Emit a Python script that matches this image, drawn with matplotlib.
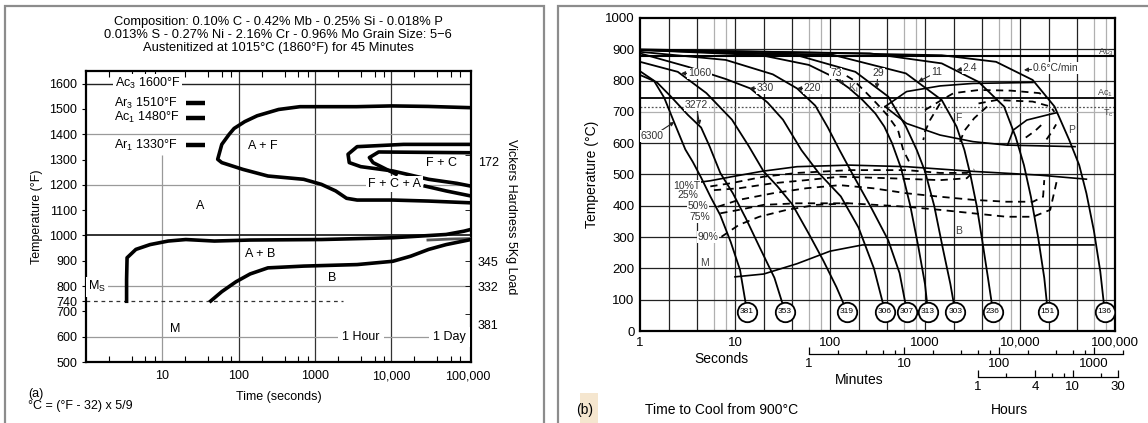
import matplotlib
matplotlib.use('Agg')
import matplotlib.pyplot as plt
from matplotlib.patches import Rectangle
from matplotlib.ticker import FixedLocator, NullFormatter, NullLocator, LogLocator

plt.rcParams['font.family'] = ['Liberation Sans', 'DejaVu Sans']
plt.rcParams['mathtext.fontset'] = 'custom'
plt.rcParams['mathtext.rm'] = 'Liberation Sans'
plt.rcParams['mathtext.it'] = 'Liberation Sans'

W, H = 1148, 423

# ---------------- (a) isothermal diagram, seconds / deg F ----------------
af_t = [1.1e5, 3e4, 1e4, 3500, 635, 333, 174, 120, 87, 75, 60, 53, 60, 114, 241, 708,
        1210, 1860, 2580, 3550, 1.04e4, 3.07e4, 1.1e5]
af_T = [1505, 1510, 1512, 1509, 1509, 1498, 1473, 1450, 1423, 1400, 1360, 1301, 1288, 1261,
        1235, 1222, 1202, 1176, 1147, 1140, 1140, 1136, 1129]
fc_out_t = [1.1e5, 1.44e4, 3550, 2700, 2800, 3960, 1.04e4, 3.07e4, 7.2e4, 1.1e5]
fc_out_T = [1360, 1360, 1351, 1321, 1288, 1272, 1255, 1222, 1206, 1195]
fc_in_t = [1.1e5, 6800, 5140, 5740, 1.15e4]
fc_in_T = [1327, 1330, 1308, 1288, 1242]
fca_t = [2.77e4, 5.2e4, 1.1e5]
fca_T = [1195, 1176, 1156]
bs_t = [3.4, 3.4, 3.45, 4.5, 6.9, 11.9, 20.3, 48, 141, 1210, 1.04e4, 5.2e4, 8.9e4, 1.1e5]
bs_T = [740, 826, 912, 945, 964, 978, 984, 978, 982, 984, 991, 1004, 1017, 1024]
bs2_t = [3e4, 6e4, 1.1e5]
bs2_T = [982, 986, 988]
bf_t = [43, 60, 92, 141, 241, 708, 3550, 1.04e4, 1.78e4, 3.07e4, 5.2e4, 1.1e5]
bf_T = [741, 778, 817, 848, 872, 879, 885, 898, 918, 945, 964, 984]
ms_t = [1, 2300]
ms_T = [740, 740]
crit_labels = [r'Ar$_3$ 1510°F', r'Ac$_1$ 1480°F', r'Ar$_1$ 1330°F']
crit_T = [1522, 1466, 1356]
crit_bar_t = [20.5, 36.5]
hv_a_labels = ['172', '345', '332', '381']
hv_a_T = [1294, 897, 797, 650]
hv_a_ticks = [1320, 1100, 900, 800, 690]
yticks_a = [500, 600, 700, 740, 800, 900, 1000, 1100, 1200, 1300, 1400, 1500, 1600]
xticks_a = [10, 100, 1000, 1e4, 1e5]
xlabels_a = ['10', '100', '1000', '10,000', '100,000']
grid_a_t = [10, 100, 1000, 1e4]
grid_a_top = [1320, 1650, 1650, 1650]

# ---------------- (b) continuous cooling diagram, seconds / deg C ----------------
rate_labels = ['6300', '3272', '1060', '330', '220', '73', '29', '11', '2.4', '0.6°C/min']
hv_b = [381, 353, 319, 306, 307, 313, 303, 236, 151, 136]
cool_t = [
    [1, 1.4, 1.8, 2.3, 3.0, 3.6, 4.4, 5.5, 7.0, 9.0, 11.3, 13.4],
    [1, 1.5, 2.1, 3.2, 4.4, 5.4, 7.0, 9.5, 13, 18, 26, 33.6],
    [1, 2.5, 5, 9.3, 14, 20, 28, 40, 60, 85, 117, 151],
    [1, 3.2, 8, 14.5, 22, 32, 50, 76, 130, 200, 290, 380],
    [1, 8, 25, 45, 70, 95, 125, 170, 265, 410, 540, 646],
    [1, 19, 60, 108, 160, 220, 300, 373, 450, 560, 700, 850, 1000, 1075],
    [1, 45, 185, 410, 630, 820, 1000, 1250, 1550, 1850, 2080],
    [1, 108, 630, 1500, 2150, 2600, 3000, 3500, 4000, 4600, 5200],
    [1, 263, 1500, 3660, 6800, 9000, 11000, 13000, 15500, 18000, 19600],
    [1, 1500, 5600, 13600, 23100, 33000, 42000, 50000, 60000, 70000, 78000],
]
cool_T = [
    [830, 800, 745, 665, 580, 540, 490, 430, 370, 285, 195, 62],
    [818, 795, 750, 690, 650, 590, 505, 440, 360, 270, 170, 62],
    [860, 828, 760, 675, 590, 510, 462, 405, 310, 225, 140, 62],
    [887, 844, 805, 775, 730, 675, 578, 505, 430, 330, 200, 62],
    [892, 866, 820, 775, 720, 650, 580, 505, 400, 290, 185, 62],
    [898, 881, 850, 812, 775, 738, 695, 653, 600, 520, 400, 270, 150, 62],
    [898, 881, 828, 749, 653, 578, 510, 400, 260, 150, 62],
    [898, 882, 823, 738, 653, 578, 500, 400, 290, 170, 62],
    [898, 887, 855, 796, 717, 620, 530, 430, 300, 170, 62],
    [900, 881, 860, 802, 717, 610, 530, 440, 320, 190, 62],
]
rate_tip = [(2.3, 668), (4.25, 658), (2.7, 823), (14.2, 775), (45, 775),
            (140, 785), (310, 775), (850, 797), (2150, 834), (11000, 834)]
rate_pos = [(1.35, 622), (3.9, 722), (3.2, 823), (17, 775), (53, 775),
            (115, 823), (320, 823), (1150, 826), (2500, 840), (13500, 840)]
rate_ha = ['center', 'center', 'left', 'left', 'left', 'center', 'center', 'left', 'left', 'left']

pct_labels = ['10%T', '25%', '50%', '75%', '90%']
pct_lab_t = [3.1, 3.2, 4.1, 4.3, 5.2]
pct_lab_T = [463, 434, 399, 363, 301]
pct_t = [
    [5.5, 9, 20, 45, 160, 640, 1440, 2750, 3300],
    [6, 11, 25, 56, 127, 425, 1440, 2750, 3250],
    [6.6, 11, 25, 56, 127, 285, 640, 1440, 3220, 7200, 13700, 17500, 18000],
    [7, 11, 20, 45, 100, 160, 640, 1440, 3220, 7200, 13700, 20800, 24500],
    [7.2, 11, 18, 35, 72, 160],
]
pct_T = [
    [462, 472, 493, 505, 514, 514, 505, 505, 516],
    [450, 456, 472, 482, 493, 488, 482, 488, 509],
    [397, 419, 440, 456, 466, 456, 440, 429, 419, 413, 413, 429, 482],
    [376, 387, 403, 408, 408, 408, 397, 387, 376, 365, 365, 387, 482],
    [301, 339, 365, 387, 403, 408],
]
bsb_t = [3.5, 5.5, 8.9, 19, 45, 160, 640, 3200, 16000, 50000]
bsb_T = [472, 480, 492, 510, 525, 530, 525, 510, 498, 485]
msb_t = [10, 20, 45, 100, 220, 1500, 60000]
msb_T = [173, 182, 215, 255, 275, 275, 275]
fs_up_t = [380, 640, 1440, 3200, 13700]
fs_up_T = [717, 765, 783, 791, 794]
fs_lo_t = [380, 640, 1440, 3200, 7200, 38000]
fs_lo_T = [717, 663, 626, 605, 594, 589]
ps_t = [7400, 8500, 11800, 19200, 24000]
ps_T = [594, 642, 674, 690, 697]
k_t = [150, 176, 243, 310, 400, 520, 590, 690]
k_T = [815, 802, 760, 727, 690, 642, 578, 537]
fdash_t = [[1000, 1440, 2000, 3700, 8000, 16000, 19000],
           [3660, 5700, 13600, 21000, 23000],
           [1440, 1130, 1000, 960],
           [4500, 3300, 2600, 2300],
           [11500, 14500, 17700],
           [19000, 21500, 24000]]
fdash_T = [[706, 735, 760, 770, 768, 760, 745],
           [727, 738, 733, 717, 700],
           [727, 674, 637, 610],
           [717, 680, 640, 600],
           [618, 640, 665],
           [612, 635, 660]]
ac3_b, ac1_b, tc_b = 878, 745, 715
grid_dark_t = [2, 4, 10, 20, 40, 100, 200, 400, 1000, 2000, 4000, 1e4, 2e4, 4e4]
grid_light_t = [6, 8, 60, 80, 600, 800, 6000, 8000, 6e4, 8e4]
grid_dark_T = [100, 200, 300, 400, 500, 600, 800, 900]
grid_light_T = [700]
xticks_b = [1, 10, 100, 1000, 1e4, 1e5]
xlabels_b = ['1', '10', '100', '1000', '10,000', '100,000']
min_major = [1, 10, 100, 1000]
min_minor = [2, 4, 6, 8, 20, 40, 60, 80, 200, 400, 600, 800, 2000]
hr_major = [1, 4, 10, 30]
hr_minor = [2, 6, 8, 20]


def fx(x):
    return x / W


def fy(y):
    return 1 - y / H


fig = plt.figure(figsize=(W / 100, H / 100), dpi=100)

# panel frames
fig.patches.append(Rectangle((fx(5), fy(430)), (544 - 5) / W, (430 - 6) / H,
                             transform=fig.transFigure, fill=False, ec='#8c8c8c', lw=1.6))
fig.patches.append(Rectangle((fx(558), fy(430)), (1160 - 558) / W, (430 - 6) / H,
                             transform=fig.transFigure, fill=False, ec='#8c8c8c', lw=1.6))
fig.patches.append(Rectangle((fx(580), fy(423)), 18 / W, 30 / H,
                             transform=fig.transFigure, fc='#f5e6cf', ec='none'))

# ================= panel (a) =================
ax = fig.add_axes([fx(86), fy(362), (471 - 86) / W, (362 - 71) / H])
ax.set_xscale('log')
ax.set_xlim(1, 1.1e5)
ax.set_ylim(500, 1650)

for t, top in zip(grid_a_t, grid_a_top):
    c = '#999999' if t == 10 else '#333333'
    ax.vlines(t, 500, top, color=c, lw=0.9, zorder=1)
ax.axhline(1600, color='#222222', lw=1.0, zorder=1)
ax.axhline(1000, color='#222222', lw=1.3, zorder=1)
for T in [1400, 1200, 800, 600]:
    ax.axhline(T, color='#9a9a9a', lw=0.9, zorder=1)

lw_a = 2.6
ax.plot(af_t, af_T, color='k', lw=lw_a, solid_capstyle='round', zorder=3)
ax.plot(fc_out_t, fc_out_T, color='k', lw=lw_a, zorder=3)
ax.plot(fc_in_t, fc_in_T, color='k', lw=lw_a, zorder=3)
ax.plot(fca_t, fca_T, color='k', lw=lw_a, zorder=3)
ax.plot(bs_t, bs_T, color='k', lw=lw_a, zorder=3)
ax.plot(bs2_t, bs2_T, color='#555555', lw=2.0, zorder=3)
ax.plot(bf_t, bf_T, color='k', lw=lw_a, zorder=3)
ax.plot(ms_t, ms_T, color='#333333', lw=0.9, ls=(0, (3, 3)), zorder=2)

wb = dict(fc='white', ec='none', pad=1.5)
ax.text(2.4, 1600, r'Ac$_3$ 1600°F', fontsize=9, va='center', ha='left', bbox=wb, zorder=4)
for lab, T in zip(crit_labels, crit_T):
    ax.text(2.3, T, lab, fontsize=9, va='center', ha='left', bbox=wb, zorder=4)
    ax.plot(crit_bar_t, [T, T], color='k', lw=3.2, solid_capstyle='butt', zorder=4)

ax.text(205, 1354, 'A + F', fontsize=9, ha='center', va='center')
ax.text(44700, 1288, 'F + C', fontsize=9, ha='center', va='center')
ax.text(11000, 1202, 'F + C + A', fontsize=9, ha='center', va='center', bbox=wb, zorder=4)
ax.text(31, 1116, 'A', fontsize=9, ha='center', va='center')
ax.text(190, 925, 'A + B', fontsize=9, ha='center', va='center')
ax.text(1670, 830, 'B', fontsize=9, ha='center', va='center')
ax.text(1.38, 797, r'M$_S$', fontsize=9, ha='center', va='center', bbox=wb, zorder=4)
ax.text(14.7, 630, 'M', fontsize=9, ha='center', va='center')
ax.text(3950, 600, '1 Hour', fontsize=9, ha='center', va='center',
        bbox=dict(fc='white', ec='none', pad=3), zorder=4)
ax.text(58000, 600, '1 Day', fontsize=9, ha='center', va='center',
        bbox=dict(fc='white', ec='none', pad=3), zorder=4)

ax.set_yticks(yticks_a)
ax.set_yticklabels([str(v) for v in yticks_a], fontsize=9)
ax.set_xticks(xticks_a)
ax.set_xticklabels(xlabels_a, fontsize=9)
ax.xaxis.set_minor_locator(LogLocator(base=10, subs=(2, 4, 6, 8)))
ax.xaxis.set_minor_formatter(NullFormatter())
ax.tick_params(axis='y', direction='out', length=3, width=0.8)
ax.tick_params(axis='x', which='both', direction='in', top=True, length=4, width=0.8)
ax.tick_params(axis='x', which='major', length=0, pad=6)
for s in ax.spines.values():
    s.set_linewidth(1.6)
ax.set_ylabel('Temperature (°F)', fontsize=9, labelpad=4)
ax.set_xlabel('Time (seconds)', fontsize=9, labelpad=6)

ax2 = ax.twinx()
ax2.set_ylim(500, 1650)
ax2.set_yticks(hv_a_T)
ax2.set_yticklabels(hv_a_labels, fontsize=9)
ax2.yaxis.set_minor_locator(FixedLocator(hv_a_ticks))
ax2.tick_params(axis='y', which='major', length=0, pad=5)
ax2.tick_params(axis='y', which='minor', direction='in', length=4)
for s in ax2.spines.values():
    s.set_visible(False)
ax2.set_ylabel('Vickers Hardness 5Kg Load', fontsize=9, rotation=-90, labelpad=13)

fig.text(fx(278), fy(22), 'Composition: 0.10% C - 0.42% Mb - 0.25% Si - 0.018% P',
         fontsize=9.3, ha='center', va='center')
fig.text(fx(278), fy(35), '0.013% S - 0.27% Ni - 2.16% Cr - 0.96% Mo Grain Size: 5\u22126',
         fontsize=9.3, ha='center', va='center')
fig.text(fx(278), fy(48), 'Austenitized at 1015°C (1860°F) for 45 Minutes',
         fontsize=9.3, ha='center', va='center')
fig.text(fx(28), fy(394), '(a)', fontsize=9, ha='left', va='center')
fig.text(fx(28), fy(406), '°C = (°F - 32) x 5/9', fontsize=9, ha='left', va='center')

# ================= panel (b) =================
bx = fig.add_axes([fx(640), fy(331), (1115 - 640) / W, (331 - 18) / H])
bx.set_xscale('log')
bx.set_xlim(1, 1e5)
bx.set_ylim(0, 1000)

for t in grid_light_t:
    bx.axvline(t, color='#b0b0b0', lw=0.9, zorder=1)
for t in grid_dark_t:
    bx.axvline(t, color='#222222', lw=0.9, zorder=1)
for T in grid_light_T:
    bx.axhline(T, color='#b0b0b0', lw=0.9, zorder=1)
for T in grid_dark_T:
    bx.axhline(T, color='#222222', lw=0.9, zorder=1)
bx.axhline(ac3_b, color='k', lw=1.5, zorder=1)
bx.axhline(ac1_b, color='k', lw=1.3, zorder=1)
bx.axhline(tc_b, color='#555555', lw=0.9, ls=(0, (1.5, 1.5)), zorder=1)

for ct, cT in zip(cool_t, cool_T):
    bx.plot(ct, cT, color='k', lw=1.3, zorder=3)
    bx.plot(ct[-1], cT[-1], 'o', ms=14, mfc='white', mec='k', mew=1.3, zorder=5)
for ct, cT, hv in zip(cool_t, cool_T, hv_b):
    bx.text(ct[-1], cT[-1], str(hv), fontsize=6, ha='center', va='center', zorder=6)

bx.plot(bsb_t, bsb_T, color='k', lw=1.2, zorder=3)
bx.plot(msb_t, msb_T, color='k', lw=1.2, zorder=3)
bx.plot(fs_up_t, fs_up_T, color='k', lw=1.2, zorder=3)
bx.plot(fs_lo_t, fs_lo_T, color='k', lw=1.2, zorder=3)
bx.plot(ps_t, ps_T, color='k', lw=1.2, zorder=3)
bx.plot(k_t, k_T, color='k', lw=1.3, ls=(0, (4, 3)), zorder=3)
for pt, pT in zip(pct_t, pct_T):
    bx.plot(pt, pT, color='k', lw=1.3, ls=(0, (4, 3)), zorder=3)
for ft, fT in zip(fdash_t, fdash_T):
    bx.plot(ft, fT, color='k', lw=1.3, ls=(0, (4, 3)), zorder=3)

wb2 = dict(fc='white', ec='none', pad=0.6)
for lab, t, T in zip(pct_labels, pct_lab_t, pct_lab_T):
    bx.text(t, T, lab, fontsize=7.5, color='#333333', ha='center', va='center', bbox=wb2, zorder=4)

for lab, tip, pos, ha in zip(rate_labels, rate_tip, rate_pos, rate_ha):
    bx.annotate(lab, xy=tip, xytext=pos, fontsize=7.5, color='#333333', ha=ha, va='center',
                bbox=wb2, zorder=4,
                arrowprops=dict(arrowstyle='-|>', color='#222222', lw=0.8,
                                mutation_scale=6, shrinkA=0, shrinkB=0))

bx.text(176, 775, r'K$_i$', fontsize=7.5, color='#444444', ha='center', va='center')
bx.text(2250, 680, 'F', fontsize=7.5, color='#444444', ha='center', va='center')
bx.text(35000, 642, 'P', fontsize=7.5, color='#444444', ha='center', va='center')
bx.text(2250, 320, 'B', fontsize=7.5, color='#444444', ha='center', va='center')
bx.text(4.8, 218, 'M', fontsize=7.5, color='#444444', ha='center', va='center')
bx.text(9.6e4, 893, r'Ac$_3$', fontsize=6.5, color='#444444', ha='right', va='center')
bx.text(9.6e4, 762, r'Ac$_1$', fontsize=6.5, color='#444444', ha='right', va='center')
bx.text(9.6e4, 695, r'T$_c$', fontsize=6.5, color='#444444', ha='right', va='center')

bx.set_xticks(xticks_b)
bx.set_xticklabels(xlabels_b, fontsize=9.5)
bx.xaxis.set_minor_locator(NullLocator())
bx.set_yticks(range(0, 1001, 100))
bx.set_yticklabels([str(v) for v in range(0, 1001, 100)], fontsize=9.5)
bx.tick_params(length=0, pad=4)
for s in bx.spines.values():
    s.set_linewidth(1.6)
bx.set_ylabel('Temperature (°C)', fontsize=10, labelpad=4)


def time_scale(ypix, t0, t1, major, minor, labels):
    sx = fig.add_axes([fx(640), fy(ypix), 484.2 / W, 0.0001])
    sx.set_xscale('log')
    sx.set_xlim(1, 1.25e5)
    sx.patch.set_visible(False)
    for s in ['top', 'left', 'right']:
        sx.spines[s].set_visible(False)
    sx.spines['bottom'].set_bounds(t0, t1)
    sx.spines['bottom'].set_linewidth(0.9)
    sx.set_yticks([])
    sx.xaxis.set_major_locator(FixedLocator(major))
    sx.xaxis.set_minor_locator(FixedLocator(minor))
    sx.xaxis.set_minor_formatter(NullFormatter())
    sx.set_xticklabels(labels, fontsize=9.5)
    sx.tick_params(axis='x', which='major', direction='in', length=5, width=0.9, pad=3)
    sx.tick_params(axis='x', which='minor', direction='in', length=3, width=0.9)
    return sx


time_scale(354, 60, 1.2e5, [m * 60 for m in min_major], [m * 60 for m in min_minor],
           [str(m) for m in min_major])
time_scale(377, 3600, 1.08e5, [h * 3600 for h in hr_major], [h * 3600 for h in hr_minor],
           [str(h) for h in hr_major])

fig.text(fx(721), fy(359), 'Seconds', fontsize=10, ha='center', va='center')
fig.text(fx(859), fy(380), 'Minutes', fontsize=10, ha='center', va='center')
fig.text(fx(1009), fy(410), 'Hours', fontsize=10, ha='center', va='center')
fig.text(fx(576), fy(410), '(b)', fontsize=10, ha='left', va='center')
fig.text(fx(645), fy(410), 'Time to Cool from 900°C', fontsize=10, ha='left', va='center')

fig.savefig('out.png', dpi=100)
